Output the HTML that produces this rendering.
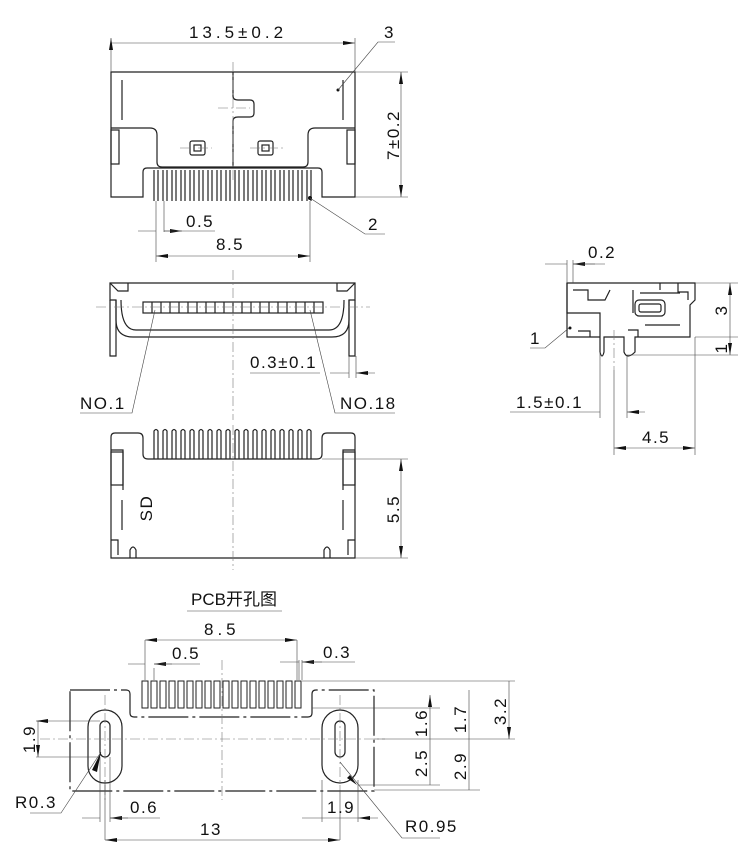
<!DOCTYPE html>
<html><head><meta charset="utf-8"><style>
html,body{margin:0;padding:0;background:#fff}
svg{display:block}
text{font-family:"Liberation Sans","Noto Sans CJK SC",sans-serif;font-size:17px;letter-spacing:1.5px;fill:#111}
.w{letter-spacing:4px}
.o{fill:none;stroke:#222;stroke-width:1.2}
.t{fill:none;stroke:#444;stroke-width:0.6}
.c{fill:none;stroke:#777;stroke-width:0.6;stroke-dasharray:10 3 2 3}
</style></head><body>
<svg width="748" height="866" viewBox="0 0 748 866" xmlns="http://www.w3.org/2000/svg">
<defs>
<marker id="a" viewBox="0 0 12 4" refX="12" refY="2" markerWidth="12" markerHeight="4" orient="auto-start-reverse" markerUnits="userSpaceOnUse"><path d="M0,0L12,2L0,4Z" fill="#111"/></marker>
</defs>

<!-- ===== TOP VIEW ===== -->
<path class="o" d="M111,72H355V197H322V172Q322,168 318,168H147Q143,168 143,172V197H111Z"/>
<path class="o" d="M111,128H150Q157,128 157,135V162Q157,167 162,167H303Q308,167 308,162V135Q308,128 315,128H355"/>
<path class="o" d="M233,72V96Q233,100 238,100H250Q254,100 254,104V113Q254,117 250,117H238Q233,117 233,121V167"/>
<path class="o" d="M122,80V120M343,80V120"/>
<rect class="o" x="111" y="130" width="8" height="34"/><rect class="o" x="347" y="130" width="8" height="34"/>
<rect class="o" x="190" y="141" width="15" height="14" rx="2"/><rect class="o" x="194" y="145" width="7" height="6"/>
<rect class="o" x="258" y="141" width="15" height="14" rx="2"/><rect class="o" x="262" y="145" width="7" height="6"/>
<path class="c" d="M233,62V180M218,108H250M180,148H212M250,148H284"/>
<g class="o">
<path d="M154,170V201M158,170V201M163,170V201M167,170V201M172,170V201M176,170V201M181,170V201M185,170V201M190,170V201M194,170V201M199,170V201M203,170V201M208,170V201M212,170V201M217,170V201M221,170V201M226,170V201M230,170V201M235,170V201M239,170V201M244,170V201M248,170V201M253,170V201M257,170V201M262,170V201M266,170V201M271,170V201M275,170V201M280,170V201M284,170V201M289,170V201M293,170V201M298,170V201M302,170V201M307,170V201M311,170V201"/>
</g>
<circle cx="310" cy="198" r="2" fill="#111"/><circle cx="338" cy="90" r="1.5" fill="#111"/>
<path class="t" d="M111,38V72M355,38V72M111,43H355" marker-start="url(#a)" marker-end="url(#a)"/>
<text class="w" x="238" y="38" text-anchor="middle">13.5±0.2</text>
<path class="t" d="M338,90L378,42H395"/><text x="384" y="38">3</text>
<path class="t" d="M355,72H408M355,197H408"/><path class="t" d="M401,72V197" marker-start="url(#a)" marker-end="url(#a)"/>
<text transform="translate(399,135) rotate(-90)" text-anchor="middle">7±0.2</text>
<path class="t" d="M310,198L365,234H385"/><text x="368" y="230">2</text>
<path class="t" d="M156,201V238M164,201V232M138,231H156M164,231H182" marker-end="url(#a)"/>
<path class="t" d="M164,231H215"/>
<text x="186" y="227">0.5</text>
<path class="t" d="M156,238V262M310,201V262"/><path class="t" d="M156,256H310" marker-start="url(#a)" marker-end="url(#a)"/>
<text x="216" y="250">8.5</text>

<!-- ===== FRONT VIEW ===== -->
<path class="o" d="M110,283H355V300H349V320Q349,337 332,337H133Q116,337 116,320V300H110Z"/>
<path class="o" d="M121,300Q121,330 136,330H329Q344,330 344,300"/>
<path class="o" d="M110,283L118,291H128V283M355,283L347,291H337V283"/>
<path class="o" d="M110,300V356H116V300M349,300V356H355V300"/>
<rect class="o" x="143" y="302" width="180" height="11"/>
<path class="o" d="M152,302V313M161,302V313M170,302V313M179,302V313M188,302V313M197,302V313M206,302V313M215,302V313M224,302V313M233,302V313M242,302V313M251,302V313M260,302V313M269,302V313M278,302V313M287,302V313M296,302V313M305,302V313M314,302V313"/>
<path class="c" d="M233,270V420M96,307H370"/>
<path class="t" d="M250,373H320M349,356V378M356,356V378"/>
<path class="t" d="M330,373H349M375,373H356" marker-end="url(#a)"/>
<text x="250" y="368">0.3±0.1</text>
<path class="t" d="M155,310L132,413H80"/><text x="80" y="409">NO.1</text>
<path class="t" d="M310,310L335,413H395"/><text x="340" y="409">NO.18</text>

<!-- ===== BOTTOM VIEW ===== -->
<path class="o" d="M115,433H138Q143,433 143,438V454Q143,459 148,459H317Q322,459 322,454V438Q322,433 327,433H351Q355,433 355,437V558H111V437Q111,433 115,433Z"/>
<path class="o" d="M111,450H123V490M355,450H343V490M122,500V530M343,500V530"/>
<rect class="o" x="111" y="452" width="12" height="33"/><rect class="o" x="343" y="452" width="12" height="33"/>
<path class="o" d="M111,540H118V555M355,540H348V555M130,558V550Q133,544 136,550V558M324,558V550Q327,544 330,550V558"/>
<g class="o"><path d="M154,459V431Q156,428 158,431V459M163,459V431Q165,428 167,431V459M172,459V431Q174,428 176,431V459M181,459V431Q183,428 185,431V459M190,459V431Q192,428 194,431V459M199,459V431Q201,428 203,431V459M208,459V431Q210,428 212,431V459M217,459V431Q219,428 221,431V459M226,459V431Q228,428 230,431V459M235,459V431Q237,428 239,431V459M244,459V431Q246,428 248,431V459M253,459V431Q255,428 257,431V459M262,459V431Q264,428 266,431V459M271,459V431Q273,428 275,431V459M280,459V431Q282,428 284,431V459M289,459V431Q291,428 293,431V459M298,459V431Q300,428 302,431V459M307,459V431Q309,428 311,431V459"/></g>
<path class="c" d="M233,425V570"/>
<text transform="translate(152,508) rotate(-90)" text-anchor="middle">SD</text>
<path class="t" d="M322,459H408M355,558H408"/><path class="t" d="M401,459V558" marker-start="url(#a)" marker-end="url(#a)"/>
<text transform="translate(399,509) rotate(-90)" text-anchor="middle">5.5</text>

<!-- ===== SIDE VIEW ===== -->
<path class="o" d="M567,283H695V300L690,305V337H635V352Q627,360 624,352V337H604V352Q602,360 600,352V313H567Z"/>
<path class="o" d="M567,283V337H600M573,290H588V300H605L610,290M633,290V313M660,283V290M678,283V292H688V300"/>
<rect class="o" x="635" y="300" width="30" height="16" rx="4"/><rect class="o" x="639" y="304" width="22" height="8" rx="2"/>
<path class="o" d="M640,293H680M645,325H680M578,331H590V337M628,330H638V337"/>
<circle cx="570" cy="328" r="1.5" fill="#111"/>
<path class="c" d="M614,330V370"/>
<path class="t" d="M567,260V283M573,260V283"/>
<path class="t" d="M545,264H567M595,264H573" marker-end="url(#a)"/><path class="t" d="M573,264H605"/>
<text x="588" y="258">0.2</text>
<path class="t" d="M695,283H738M695,337H738M627,355H738"/>
<path class="t" d="M730,283V337M730,337V355" marker-start="url(#a)" marker-end="url(#a)"/>
<text transform="translate(727,310) rotate(-90)" text-anchor="middle">3</text>
<text transform="translate(727,348) rotate(-90)" text-anchor="middle">1</text>
<path class="t" d="M569,328L545,348H530"/><text x="530" y="344">1</text>
<path class="t" d="M600,352V418M627,355V418M614,370V455M695,337V455"/>
<path class="t" d="M580,412H600M645,412H627" marker-end="url(#a)"/><path class="t" d="M510,412H580"/>
<text x="516" y="408">1.5±0.1</text>
<path class="t" d="M614,448H695" marker-start="url(#a)" marker-end="url(#a)"/>
<text x="642" y="443">4.5</text>

<!-- ===== PCB ===== -->
<text x="191" y="605" style="letter-spacing:0">PCB开孔图</text>
<path class="t" d="M187,611H282"/>
<path class="o" d="M70,690H126Q130,690 130,694V713Q130,717 134,717H308Q312,717 312,713V694Q312,690 316,690H374V791H70Z" style="stroke-dasharray:40 4 3 4"/>
<g class="o" style="stroke-width:1"><rect x="142" y="681" width="6" height="27"/><rect x="151" y="681" width="6" height="27"/><rect x="160" y="681" width="6" height="27"/><rect x="169" y="681" width="6" height="27"/><rect x="178" y="681" width="6" height="27"/><rect x="187" y="681" width="6" height="27"/><rect x="196" y="681" width="6" height="27"/><rect x="205" y="681" width="6" height="27"/><rect x="214" y="681" width="6" height="27"/><rect x="223" y="681" width="6" height="27"/><rect x="232" y="681" width="6" height="27"/><rect x="241" y="681" width="6" height="27"/><rect x="250" y="681" width="6" height="27"/><rect x="259" y="681" width="6" height="27"/><rect x="268" y="681" width="6" height="27"/><rect x="277" y="681" width="6" height="27"/><rect x="286" y="681" width="6" height="27"/><rect x="295" y="681" width="6" height="27"/></g>
<rect class="o" x="88" y="710" width="34" height="73" rx="17"/><rect class="o" x="100" y="721" width="10" height="36" rx="5"/>
<rect class="o" x="322" y="710" width="36" height="73" rx="18"/><rect class="o" x="335" y="721" width="10" height="36" rx="5"/>
<path class="c" d="M40,739H385M105,695V800M340,695V790M222,660V800"/>
<path class="t" d="M145,640V680M297,640V680M154,668V680M302,660V680M299,660V680"/>
<path class="t" d="M145,640H297" marker-start="url(#a)" marker-end="url(#a)"/>
<text class="w" x="204" y="635">8.5</text>
<path class="t" d="M128,664H145M172,664H154" marker-end="url(#a)"/><path class="t" d="M154,664H200"/>
<text x="172" y="659">0.5</text>
<path class="t" d="M280,662H299M322,662H302" marker-end="url(#a)"/><path class="t" d="M302,662H355"/>
<text x="323" y="658">0.3</text>
<path class="t" d="M302,681H515M312,708H440M374,739H515M374,790H480M358,785H440"/>
<path class="t" d="M430,695V739M430,739V785M469,690V739M469,739V790M509,681V739" marker-start="url(#a)" marker-end="url(#a)"/>
<text transform="translate(427,723) rotate(-90)" text-anchor="middle">1.6</text>
<text transform="translate(427,763) rotate(-90)" text-anchor="middle">2.5</text>
<text transform="translate(466,719) rotate(-90)" text-anchor="middle">1.7</text>
<text transform="translate(466,766) rotate(-90)" text-anchor="middle">2.9</text>
<text transform="translate(506,711) rotate(-90)" text-anchor="middle">3.2</text>
<path class="t" d="M36,721H100M36,757H100M38,721V757" marker-start="url(#a)" marker-end="url(#a)"/>
<text transform="translate(35,739) rotate(-90)" text-anchor="middle">1.9</text>
<path class="t" d="M100,757V822M110,757V822M105,780V840M340,790V840M322,780V822M358,780V822"/>
<path class="t" d="M82,818H100M128,818H110" marker-end="url(#a)"/><path class="t" d="M110,818H160"/>
<text x="130" y="813">0.6</text>
<path class="t" d="M302,818H322M378,818H358" marker-end="url(#a)"/><path class="t" d="M322,818H358"/>
<text x="327" y="813">1.9</text>
<path class="t" d="M105,840H340" marker-start="url(#a)" marker-end="url(#a)"/>
<text x="200" y="835">13</text>
<path class="t" d="M101,752L61,813H30"/><path d="M101,752L92,770L97,772Z" fill="#111"/>
<text x="15" y="808">R0.3</text>
<path class="t" d="M340,762L402,838H440"/><path d="M357,785L350,775L347,778Z" fill="#111"/>
<text x="405" y="832">R0.95</text>
</svg>
</body></html>
